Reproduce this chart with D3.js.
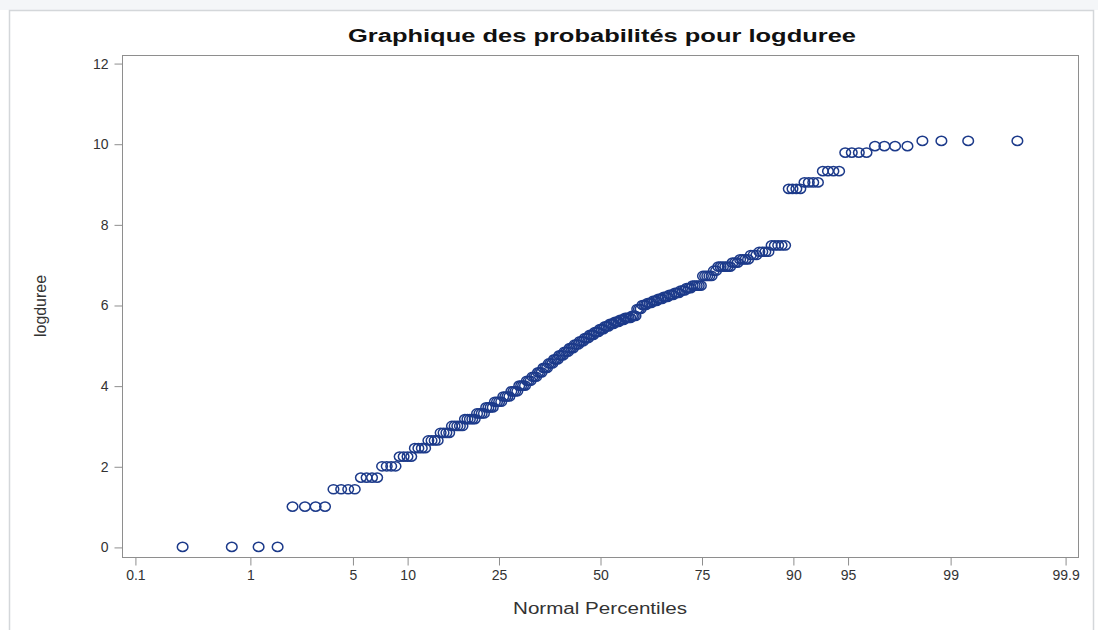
<!DOCTYPE html>
<html>
<head>
<meta charset="utf-8">
<script src="https://cdn.jsdelivr.net/npm/d3@7/dist/d3.min.js"></script>
<style>
  html, body { margin: 0; padding: 0; background: #ffffff; }
  svg { display: block; }
  text { font-family: "Liberation Sans", Arial, sans-serif; }
</style>
</head>
<body>
<svg id="chart" width="1098" height="630"></svg>
<script>
// ---- Data (sorted logduree sample) ----
const logduree = [
  0, 0, 0, 0,
  1.0, 1.0, 1.0, 1.0,
  1.43, 1.43, 1.43, 1.43,
  1.72, 1.72, 1.72, 1.72,
  2.0, 2.0, 2.0, 2.0,
  2.24, 2.24, 2.24, 2.24,
  2.45, 2.45, 2.45, 2.45,
  2.64, 2.64, 2.64, 2.64,
  2.83, 2.83, 2.83, 2.83,
  3.0, 3.0, 3.0, 3.0, 3.0,
  3.17, 3.17, 3.17, 3.17, 3.17,
  3.31, 3.31, 3.31, 3.31,
  3.46, 3.46, 3.46, 3.46,
  3.6, 3.6, 3.6, 3.6,
  3.73, 3.73, 3.73, 3.73,
  3.86, 3.86, 3.86, 3.86,
  4.0, 4.0, 4.0, 4.0,
  4.12, 4.12, 4.12,
  4.22, 4.22, 4.22,
  4.33, 4.33, 4.33,
  4.44, 4.44, 4.44,
  4.55, 4.55, 4.55,
  4.65, 4.65, 4.65,
  4.75, 4.75, 4.75,
  4.84, 4.84, 4.84,
  4.93, 4.93, 4.93,
  5.02, 5.02, 5.02,
  5.1, 5.1, 5.1,
  5.18, 5.18, 5.18,
  5.26, 5.26, 5.26,
  5.33, 5.33, 5.33,
  5.4, 5.4, 5.4,
  5.47, 5.47, 5.47,
  5.53, 5.53, 5.53,
  5.58, 5.58, 5.58,
  5.63, 5.63, 5.63,
  5.68, 5.68, 5.68, 5.68,
  5.73, 5.73, 5.73,
  5.9, 5.9, 5.9,
  6.0, 6.0, 6.0,
  6.05, 6.05, 6.05,
  6.1, 6.1, 6.1,
  6.15, 6.15, 6.15,
  6.2, 6.2, 6.2,
  6.25, 6.25, 6.25,
  6.3, 6.3, 6.3,
  6.36, 6.36, 6.36,
  6.42, 6.42, 6.42,
  6.48, 6.48, 6.48, 6.48, 6.48,
  6.72, 6.72, 6.72, 6.72, 6.72,
  6.85, 6.85,
  6.95, 6.95, 6.95, 6.95, 6.95, 6.95,
  7.05, 7.05, 7.05,
  7.13, 7.13, 7.13, 7.13,
  7.24, 7.24, 7.24,
  7.32, 7.32, 7.32, 7.32,
  7.48, 7.48, 7.48, 7.48, 7.48,
  8.88, 8.88, 8.88, 8.88,
  9.04, 9.04, 9.04, 9.04,
  9.32, 9.32, 9.32, 9.32,
  9.78, 9.78, 9.78, 9.78,
  9.94, 9.94, 9.94, 9.94,
  10.07, 10.07, 10.07, 10.07
];
const percentileTicks = [0.1, 1, 5, 10, 25, 50, 75, 90, 95, 99, 99.9];
const yTicks = [0, 2, 4, 6, 8, 10, 12];
const titleText = "Graphique des probabilités pour logduree";
const xLabel = "Normal Percentiles";
const yLabel = "logduree";

// ---- Inverse standard normal (Acklam) ----
function invNorm(p) {
  const a = [-3.969683028665376e+01, 2.209460984245205e+02, -2.759285104469687e+02, 1.383577518672690e+02, -3.066479806614716e+01, 2.506628277459239e+00];
  const b = [-5.447609879822406e+01, 1.615858368580409e+02, -1.556989798598866e+02, 6.680131188771972e+01, -1.328068155288572e+01];
  const c = [-7.784894002430293e-03, -3.223964580411365e-01, -2.400758277161838e+00, -2.549732539343734e+00, 4.374664141464968e+00, 2.938163982698783e+00];
  const d = [7.784695709041462e-03, 3.224671290700398e-01, 2.445134137142996e+00, 3.754408661907416e+00];
  const pl = 0.02425, ph = 1 - pl;
  let q, r;
  if (p < pl) {
    q = Math.sqrt(-2 * Math.log(p));
    return (((((c[0]*q+c[1])*q+c[2])*q+c[3])*q+c[4])*q+c[5]) / ((((d[0]*q+d[1])*q+d[2])*q+d[3])*q+1);
  } else if (p <= ph) {
    q = p - 0.5; r = q * q;
    return (((((a[0]*r+a[1])*r+a[2])*r+a[3])*r+a[4])*r+a[5])*q / (((((b[0]*r+b[1])*r+b[2])*r+b[3])*r+b[4])*r+1);
  } else {
    q = Math.sqrt(-2 * Math.log(1 - p));
    return -(((((c[0]*q+c[1])*q+c[2])*q+c[3])*q+c[4])*q+c[5]) / ((((d[0]*q+d[1])*q+d[2])*q+d[3])*q+1);
  }
}

// Blom plotting positions (probability plot)
const n = logduree.length;
const points = logduree.map((v, i) => ({ p: (i + 1 - 0.375) / (n + 0.25), v }));

// ---- Layout ----
const svg = d3.select("#chart");
const frame = { left: 122, right: 1078, top: 55, bottom: 557 };

const x = d3.scaleLinear().domain([-3.176, 3.176]).range([frame.left, frame.right]);
const y = d3.scaleLinear().domain([-0.25, 12.2]).range([frame.bottom, frame.top]);

// outer light border
svg.append("rect").attr("x", 0).attr("y", 0).attr("width", 1098).attr("height", 10).attr("fill", "#f4f6f8");
svg.append("rect").attr("x", 9.5).attr("y", 10.5).attr("width", 1084).attr("height", 640)
  .attr("fill", "#ffffff").attr("stroke", "#d4d7da").attr("stroke-width", 1.5);

// plot frame
svg.append("rect")
  .attr("x", frame.left + 0.5).attr("y", frame.top + 0.5)
  .attr("width", frame.right - frame.left).attr("height", frame.bottom - frame.top)
  .attr("fill", "#ffffff").attr("stroke", "#8e8e8e").attr("stroke-width", 1);

// x axis
const xAxis = d3.axisBottom(x)
  .tickValues(percentileTicks.map(t => invNorm(t / 100)))
  .tickFormat((d, i) => String(percentileTicks[i]))
  .tickSize(8).tickPadding(5);
const gx = svg.append("g").attr("transform", `translate(0.5,${frame.bottom + 0.5})`).call(xAxis);
gx.select(".domain").remove();
gx.selectAll(".tick line").attr("stroke", "#8e8e8e");
gx.selectAll(".tick text").attr("fill", "#333").attr("font-size", 14);

// y axis
const yAxis = d3.axisLeft(y).tickValues(yTicks).tickSize(8).tickPadding(6);
const gy = svg.append("g").attr("transform", `translate(${frame.left + 0.5},0.5)`).call(yAxis);
gy.select(".domain").remove();
gy.selectAll(".tick line").attr("stroke", "#8e8e8e");
gy.selectAll(".tick text").attr("fill", "#333").attr("font-size", 14);

// points
svg.append("g").selectAll("ellipse").data(points).join("ellipse")
  .attr("cx", d => x(invNorm(d.p)))
  .attr("cy", d => y(d.v))
  .attr("rx", 5.3).attr("ry", 4.6)
  .attr("fill", "none")
  .attr("stroke", "#1c3a8a")
  .attr("stroke-width", 1.5);

// title
svg.append("text")
  .attr("x", 602).attr("y", 42)
  .attr("text-anchor", "middle")
  .attr("font-size", 18).attr("font-weight", "bold").attr("fill", "#111")
  .attr("textLength", 508).attr("lengthAdjust", "spacingAndGlyphs")
  .text(titleText);

// x label
svg.append("text")
  .attr("x", 600).attr("y", 614)
  .attr("text-anchor", "middle")
  .attr("font-size", 16).attr("fill", "#333")
  .attr("textLength", 174).attr("lengthAdjust", "spacingAndGlyphs")
  .text(xLabel);

// y label
svg.append("text")
  .attr("transform", `translate(46,${(frame.top + frame.bottom) / 2}) rotate(-90)`)
  .attr("text-anchor", "middle")
  .attr("font-size", 16).attr("fill", "#333")
  .attr("textLength", 62).attr("lengthAdjust", "spacingAndGlyphs")
  .text(yLabel);
</script>
</body>
</html>
